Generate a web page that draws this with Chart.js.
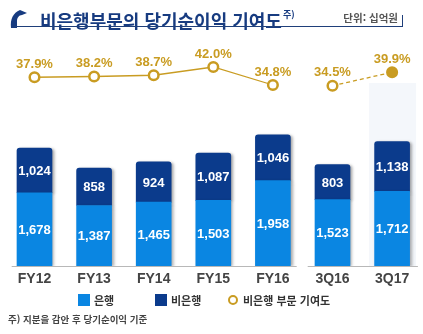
<!DOCTYPE html>
<html lang="ko">
<head>
<meta charset="utf-8">
<script src="https://cdn.jsdelivr.net/npm/chart.js@4.4.1/dist/chart.umd.min.js"></script>
<style>
  body { margin: 0; width: 423px; height: 334px; background: #fff; position: relative; overflow: hidden; font-family: "Noto Sans CJK KR", sans-serif; }
  #wrap { position: absolute; left: 0; top: 0; width: 423px; height: 334px; }
  .icon { position: absolute; left: 10px; top: 9px; }
  .title { position: absolute; left: 40px; top: 7px; font-size: 18px; line-height: 22px; font-weight: bold; color: #173b80; white-space: nowrap; }
  .title sup { font-size: 9px; position: relative; top: -3px; margin-left: 1px; }
  .unit { position: absolute; right: 25px; top: 11px; font-size: 10.5px; line-height: 14px; font-weight: bold; color: #555; }
  .rule { position: absolute; left: 15px; top: 26px; width: 388px; height: 0; border-top: 1.5px solid #1f3f7a; }
  .tick { position: absolute; left: 402px; top: 15px; width: 0; height: 12px; border-left: 1px solid #1f3f7a; }
  .legend { position: absolute; top: 292px; font-size: 11px; line-height: 16px; font-weight: bold; color: #333; white-space: nowrap; }
  .legend i { position: absolute; top: 2px; width: 12px; height: 12px; }
  .legend i.ring { top: 2.5px; width: 6px; height: 6px; border: 2.5px solid; border-radius: 50%; background: #fff; }
  .note { position: absolute; left: 8px; top: 312px; font-size: 9.5px; line-height: 14px; font-weight: bold; color: #444; }
</style>
</head>
<body>
<div id="wrap"><canvas id="chart" width="423" height="334"></canvas></div>
<svg class="icon" width="18" height="20" viewBox="0 0 18 20">
  <path d="M1,19 C0,10 3,4 10,1 L17,4 L12,6 C9,6 7,9 7,12 L7,19 Z" fill="#173b80"/>
</svg>
<div class="title">비은행부문의 당기순이익 기여도<sup>주)</sup></div>
<div class="unit">단위: 십억원</div>
<div class="rule"></div>
<div class="tick"></div>
<div id="legend"></div>
<div class="note">주) 지분을 감안 후 당기순이익 기준</div>
<script>
const categories = ['FY12', 'FY13', 'FY14', 'FY15', 'FY16', '3Q16', '3Q17'];
const bankValues = [1678, 1387, 1465, 1503, 1958, 1523, 1712];
const nonBankValues = [1024, 858, 924, 1087, 1046, 803, 1138];
const contribution = [37.9, 38.2, 38.7, 42.0, 34.8, 34.5, 39.9];
const seriesNames = ['은행', '비은행', '비은행 부문 기여도'];

const blue = '#0a86e2';
const navy = '#0b3b8c';
const gold = '#c99c22';
const numFont = '"Liberation Sans", Arial, sans-serif';

// legend as plain html, placed like the original slide
const legendSpots = [78, 155, 228];
document.querySelector('#legend').innerHTML = seriesNames.map((name, i) => {
    const mark = i === 2
        ? `<i class="ring" style="left:0;border-color:${gold}"></i>`
        : `<i style="left:0;background:${i === 0 ? blue : navy}"></i>`;
    return `<div class="legend" style="left:${legendSpots[i]}px">${mark}<span style="margin-left:${i === 2 ? 15 : 16}px">${name}</span></div>`;
}).join('');

const backdrop = {
    id: 'backdrop',
    beforeDatasetsDraw(chart) {
        const { ctx, scales: { x, y }, chartArea } = chart;
        const base = y.getPixelForValue(0);
        const last = x.getPixelForValue(categories.length - 1);
        ctx.save();
        ctx.fillStyle = '#f4f7fb';
        ctx.fillRect(last - 23, chartArea.top + 43, 47, base - chartArea.top - 43);
        // axis line, broken between the yearly and the quarterly part
        const gap = (x.getPixelForValue(4) + x.getPixelForValue(5)) / 2;
        ctx.strokeStyle = '#b8b8b8';
        ctx.lineWidth = 1;
        ctx.beginPath();
        ctx.moveTo(chartArea.left + 7, base + 0.5);
        ctx.lineTo(gap - 6, base + 0.5);
        ctx.moveTo(gap + 5, base + 0.5);
        ctx.lineTo(chartArea.right - 4, base + 0.5);
        ctx.stroke();
        ctx.restore();
    }
};

const barShadow = {
    id: 'barShadow',
    beforeDatasetDraw(chart, args) {
        if (args.meta.type !== 'bar') return;
        const ctx = chart.ctx;
        ctx.save();
        ctx.shadowColor = 'rgba(0, 0, 0, 0.35)';
        ctx.shadowBlur = 3;
        ctx.shadowOffsetX = 2;
        ctx.shadowOffsetY = 1;
    },
    afterDatasetDraw(chart, args) {
        if (args.meta.type !== 'bar') return;
        chart.ctx.restore();
    }
};

const valueLabels = {
    id: 'valueLabels',
    afterDatasetsDraw(chart) {
        const ctx = chart.ctx;
        ctx.save();
        ctx.textAlign = 'center';
        ctx.textBaseline = 'middle';
        ctx.font = 'bold 13px ' + numFont;
        ctx.fillStyle = '#fff';
        [0, 1].forEach(di => {
            chart.getDatasetMeta(di).data.forEach((bar, i) => {
                const v = chart.data.datasets[di].data[i];
                const { y, base } = bar.getProps(['y', 'base'], true);
                ctx.fillText(v.toLocaleString('en-US'), bar.x, (y + base) / 2 + 1);
            });
        });
        ctx.fillStyle = gold;
        chart.getDatasetMeta(2).data.forEach((pt, i) => {
            ctx.fillText(contribution[i].toFixed(1) + '%', pt.x, pt.y - 13);
        });
        ctx.restore();
    }
};

new Chart(document.querySelector('#chart').getContext('2d'), {
    type: 'bar',
    data: {
        labels: categories,
        datasets: [
            {
                label: seriesNames[0],
                data: bankValues,
                backgroundColor: blue,
                barThickness: 35,
                yAxisID: 'y',
            },
            {
                label: seriesNames[1],
                data: nonBankValues,
                backgroundColor: navy,
                barThickness: 35,
                borderRadius: { topLeft: 3, topRight: 3, bottomLeft: 0, bottomRight: 0 },
                borderSkipped: false,
                yAxisID: 'y',
            },
            {
                type: 'line',
                label: seriesNames[2],
                data: contribution,
                yAxisID: 'y2',
                borderColor: gold,
                borderWidth: 1.3,
                pointRadius: 4.8,
                pointBorderWidth: 2.5,
                pointBorderColor: gold,
                pointBackgroundColor: ctx => ctx.dataIndex === categories.length - 1 ? gold : '#fff',
                segment: {
                    borderColor: ctx => ctx.p0DataIndex === 4 ? 'rgba(0,0,0,0)' : gold,
                    borderDash: ctx => ctx.p0DataIndex === 5 ? [4, 3] : undefined,
                },
            },
        ],
    },
    options: {
        responsive: false,
        animation: false,
        layout: { autoPadding: false, padding: { top: 40, left: 4.7, right: 1.1, bottom: 41.2 } },
        plugins: {
            tooltip: { enabled: false },
            legend: { display: false },
        },
        scales: {
            x: {
                stacked: true,
                grid: { display: false, drawTicks: false },
                border: { display: false },
                ticks: {
                    color: '#444',
                    padding: 5,
                    font: { family: numFont, size: 14, weight: 'bold' },
                },
            },
            y: {
                stacked: true,
                display: false,
                min: 0,
                max: 5180,
            },
            y2: {
                display: false,
                min: -37.6,
                max: 52.8,
            },
        },
    },
    plugins: [backdrop, barShadow, valueLabels],
});
</script>
</body>
</html>
